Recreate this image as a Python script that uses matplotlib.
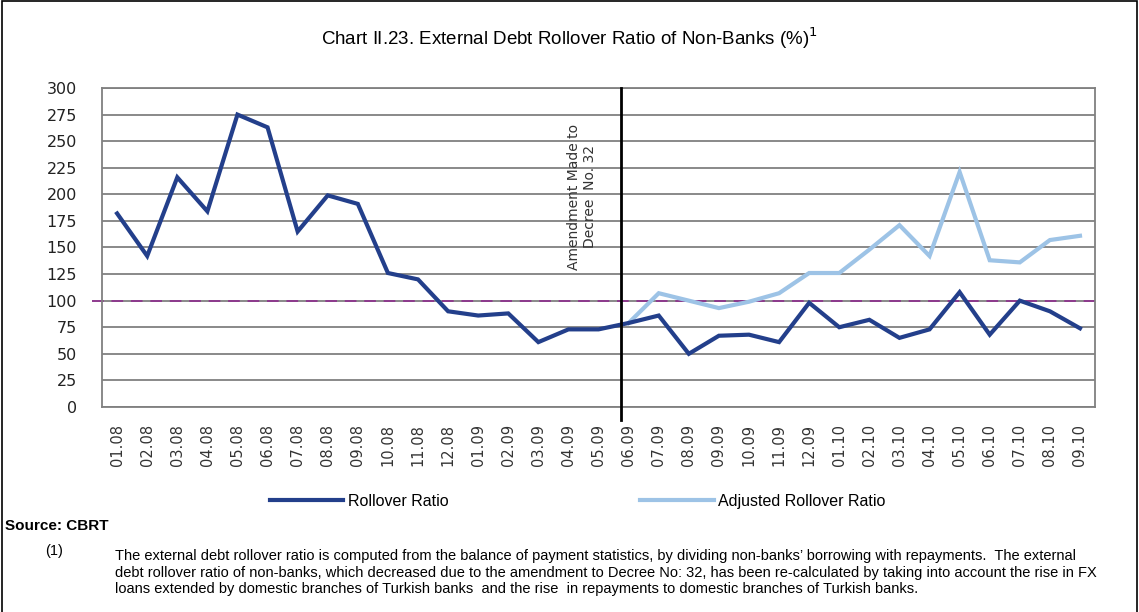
import numpy as np
import matplotlib.pyplot as plt
from matplotlib.patches import Rectangle

# Datos
months = ["01.08", "02.08", "03.08", "04.08", "05.08", "06.08", "07.08", "08.08", "09.08",
          "10.08", "11.08", "12.08", "01.09", "02.09", "03.09", "04.09", "05.09", "06.09",
          "07.09", "08.09", "09.09", "10.09", "11.09", "12.09", "01.10", "02.10", "03.10",
          "04.10", "05.10", "06.10", "07.10", "08.10", "09.10"]
rollover = [182, 142, 216, 184, 275, 263, 165, 199, 191, 126, 120, 90, 86, 88, 61, 73, 73, 79,
            86, 50, 67, 68, 61, 98, 75, 82, 65, 73, 108, 68, 100, 90, 74]
adjusted = [np.nan] * 17 + [79, 107, 100, 93, 99, 107, 126, 126, 148, 171, 142, 221, 138,
                            136, 157, 161]
yticks = list(range(0, 301, 25))
threshold = 100
amendment = "06.09"

navy = "#233F8B"
light = "#9DC3E6"
purple = "#8E3A8E"
narrow = ["Liberation Sans Narrow", "Liberation Sans", "DejaVu Sans"]

plt.rcParams["font.family"] = ["DejaVu Sans"]

fig = plt.figure(figsize=(11.39, 6.12), dpi=100)
ax = fig.add_axes([0.0896, 0.335, 0.8718, 0.5212])

x = np.arange(len(months))
ax.plot(x, rollover, color=navy, lw=3, solid_joinstyle="miter", zorder=4, label="Rollover Ratio")
ax.plot(x, adjusted, color=light, lw=3, solid_joinstyle="miter", zorder=3,
        label="Adjusted Rollover Ratio")

ax.set_xlim(-0.5, len(months) - 0.5)
ax.set_ylim(0, 300)
ax.set_yticks(yticks)
ax.set_yticklabels([str(v) for v in yticks], fontsize=11.5, color="#222222")
ax.set_xticks(x)
ax.set_xticklabels(months, rotation=90, fontsize=10.5, color="#333333")
ax.tick_params(axis="y", length=0, pad=18)
ax.tick_params(axis="x", length=0, pad=12)
ax.grid(axis="y", color="#808080", lw=1.3, zorder=1)
ax.set_axisbelow(True)
for s in ax.spines.values():
    s.set_color("#808080")
    s.set_linewidth(1.3)

# linea de 100
ax.plot([-0.01, 1], [threshold, threshold], transform=ax.get_yaxis_transform(), clip_on=False,
        color=purple, lw=1.4, dashes=(6, 4), zorder=2)

# cambio de decreto
xa = months.index(amendment) - 0.25
ax.axvline(xa, ymin=-0.04, ymax=1, color="black", lw=2, clip_on=False, zorder=5)
ax.text(xa - 1.3, 198, "Amendment Made to\nDecree  No. 32", rotation=90, ha="center",
        va="center", multialignment="center", fontsize=10, color="#333333", linespacing=1.1)

leg = ax.legend(loc="upper center", bbox_to_anchor=(0.479, -0.228), ncol=2, frameon=False,
                handlelength=4.6, columnspacing=12, handletextpad=0.3,
                prop={"family": narrow, "size": 11.5})

fig.text(0.5, 0.937, "Chart II.23. External Debt Rollover Ratio of Non-Banks (%)$^1$",
         ha="center", va="center", fontsize=13.5, color="black", family=narrow)

fig.text(0.004, 0.14, "Source: CBRT", fontsize=11, fontweight="bold", va="center", family=narrow)
fig.text(0.04, 0.099, "(1)", fontsize=10.5, va="center", family=narrow)
note = ("The external debt rollover ratio is computed from the balance of payment statistics, "
        "by dividing non-banks\u2019 borrowing with repayments.  The external\n"
        "debt rollover ratio of non-banks, which decreased due to the amendment to Decree No: 32, "
        "has been re-calculated by taking into account the rise in FX\n"
        "loans extended by domestic branches of Turkish banks  and the rise  in repayments to "
        "domestic branches of Turkish banks.")
fig.text(0.101, 0.103, note, fontsize=10.5, va="top", linespacing=1.25, family=narrow)

fig.patches.append(Rectangle((0.002, -0.01), 0.996, 1.008, transform=fig.transFigure,
                             fill=False, edgecolor="black", lw=1.2))

fig.savefig("out.png", dpi=100)
